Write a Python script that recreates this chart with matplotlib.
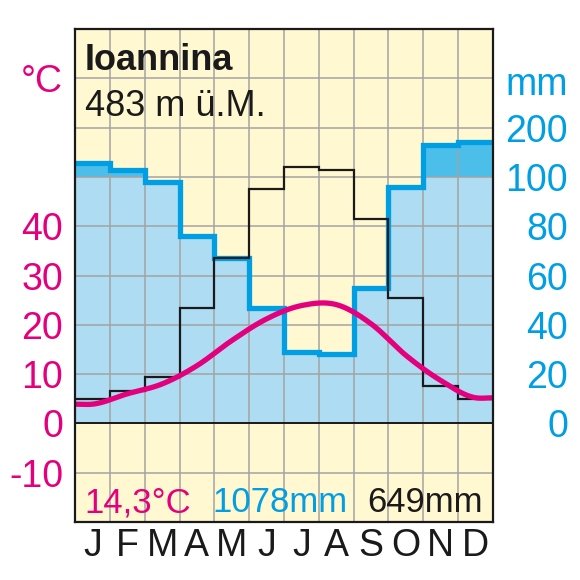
import matplotlib
matplotlib.use("Agg")
import matplotlib.pyplot as plt
import matplotlib.transforms as mtransforms
import numpy as np

months = ["J", "F", "M", "A", "M", "J", "J", "A", "S", "O", "N", "D"]
temp = [3.9, 6.0, 8.0, 11.7, 16.8, 21.2, 23.9, 24.1, 20.2, 13.8, 8.7, 5.2]
precip = [128, 113, 98, 76, 67, 47, 29, 28, 55, 96, 164, 171]
evap = [10, 13, 19, 47, 67, 95, 121, 114, 83, 51, 15, 10]
station = "Ioannina"
altitude = "483 m ü.M."
mean_temp = "14,3°C"
sum_precip = "1078mm"
sum_evap = "649mm"
temp_ticks = [-10, 0, 10, 20, 30, 40]
mm_ticks = [0, 20, 40, 60, 80, 100, 200]

MAGENTA = "#e4007c"
BLUE = "#009fe3"
LIGHT = "#addcf3"
DARK = "#4bbfea"
CREAM = "#fff8d0"
GRID = "#a3a3a3"
INK = "#1a1a1a"
FONT = ["Liberation Sans Narrow", "Liberation Sans", "DejaVu Sans"]
FS_AX = 27    # axis labels
FS_IN = 25    # texts inside the plot


def mm_to_y(p):
    # walter-lieth: 20 mm = 10 degC, above 100 mm scale is 1/10
    p = np.asarray(p, dtype=float)
    return np.where(p <= 100, p / 2.0, 50 + (p - 100) / 10.0)


def smooth(xk, yk, n=500):
    xk = np.asarray(xk, float)
    yk = np.asarray(yk, float)
    m = np.gradient(yk, xk)
    m[0] = m[-1] = 0
    xx = np.linspace(xk[0], xk[-1], n)
    i = np.clip(np.searchsorted(xk, xx) - 1, 0, len(xk) - 2)
    h = xk[i + 1] - xk[i]
    t = (xx - xk[i]) / h
    h00 = 2 * t**3 - 3 * t**2 + 1
    h10 = t**3 - 2 * t**2 + t
    h01 = -2 * t**3 + 3 * t**2
    h11 = t**3 - t**2
    yy = h00 * yk[i] + h10 * h * m[i] + h01 * yk[i + 1] + h11 * h * m[i + 1]
    return xx, yy


fig = plt.figure(figsize=(5.8, 5.8), dpi=100)
ax = fig.add_axes([75 / 580, 58 / 580, 418 / 580, 493 / 580])
ax.set_xlim(0, 12)
ax.set_ylim(-20, 80)
ax.set_facecolor(CREAM)

edges = np.arange(13)
py = mm_to_y(precip)
ey = mm_to_y(evap)

ax.stairs(np.minimum(py, 50), edges, baseline=0, fill=True, color=LIGHT, zorder=1)
ax.stairs(np.maximum(py, 50), edges, baseline=50, fill=True, color=DARK, zorder=1)

# grid: month boundaries and every 10 degC
for xb in edges[1:-1]:
    ax.axvline(xb, color=GRID, lw=1.1, zorder=2)
for yb in np.arange(-10, 80, 10):
    ax.axhline(yb, color=GRID, lw=1.1, zorder=2)
ax.axhline(0, color=INK, lw=1.4, zorder=3)

ax.stairs(py, edges, baseline=None, color=BLUE, lw=3.8, zorder=4)
ax.stairs(ey, edges, baseline=None, color=INK, lw=1.6, zorder=5)

xc = np.concatenate([[0], np.arange(12) + 0.5, [12]])
tc = np.concatenate([[temp[0]], temp, [temp[-1]]])
xx, yy = smooth(xc, tc)
ax.plot(xx, yy, color=MAGENTA, lw=3.8, solid_capstyle="butt", zorder=6)

for s in ax.spines.values():
    s.set_linewidth(1.6)
    s.set_color(INK)
    s.set_zorder(7)

# month labels
ax.set_xticks(np.arange(12) + 0.5)
ax.set_xticklabels(months, fontsize=FS_AX, family=FONT, color=INK)
ax.tick_params(axis="x", length=0, pad=4)

# temperature labels (left)
ax.set_yticks(temp_ticks + [70])
ax.set_yticklabels([str(v) for v in temp_ticks] + ["°C"], fontsize=FS_AX, family=FONT,
                   color=MAGENTA)
ax.tick_params(axis="y", length=0, pad=8.5)

# precipitation labels (right)
trans = mtransforms.blended_transform_factory(ax.transAxes, ax.transData)
for v in mm_ticks:
    ax.text(1.18, float(mm_to_y(v)), str(v), transform=trans, ha="right", va="center_baseline",
            fontsize=FS_AX, family=FONT, color=BLUE)
ax.text(1.18, 69.5, "mm", transform=trans, ha="right", va="center_baseline",
        fontsize=FS_AX, family=FONT, color=BLUE)

# texts inside the plot
ax.text(0.28, 74.5, station, fontsize=FS_IN + 1, family=FONT, weight="bold",
        va="center_baseline", ha="left", color=INK, zorder=8)
ax.text(0.28, 65, altitude, fontsize=FS_IN + 1, family=FONT, va="center_baseline",
        ha="left", color=INK, zorder=8)
ax.text(0.28, -15.4, mean_temp, fontsize=FS_IN, family=FONT, va="center_baseline",
        ha="left", color=MAGENTA, zorder=8)
ax.text(3.95, -15.4, sum_precip, fontsize=FS_IN, family=FONT, va="center_baseline",
        ha="left", color=BLUE, zorder=8)
ax.text(11.72, -15.4, sum_evap, fontsize=FS_IN, family=FONT, va="center_baseline",
        ha="right", color=INK, zorder=8)

fig.savefig("out.png", dpi=100)
